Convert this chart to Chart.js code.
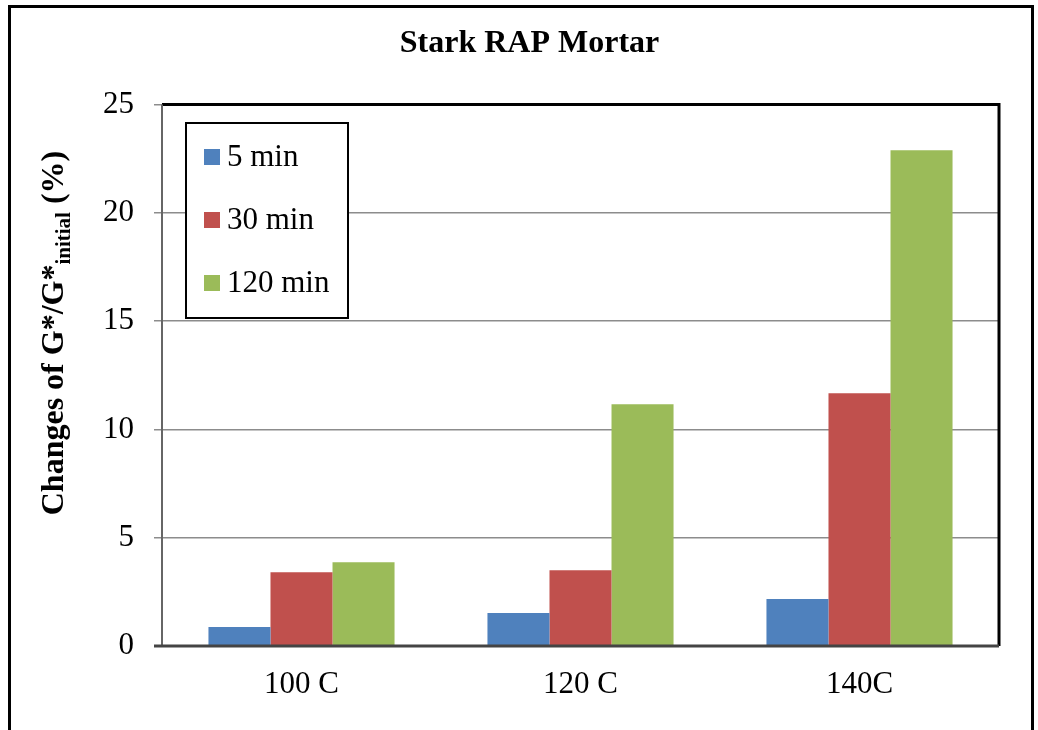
<!DOCTYPE html>
<html>
<head>
<meta charset="utf-8">
<script src="https://cdn.jsdelivr.net/npm/chart.js@4.4.1/dist/chart.umd.min.js"></script>
<style>
  html, body { margin: 0; padding: 0; background: #fff; }
  #wrap { position: relative; width: 1038px; height: 730px; overflow: hidden; }
  #frame { position: absolute; left: 8px; top: 5px; width: 1020px; height: 800px; border: 3px solid #000; }
  #chart { position: absolute; left: 0; top: 0; }
</style>
</head>
<body>
<div id="wrap">
  <div id="frame"></div>
  <canvas id="chart" width="1038" height="730"></canvas>
</div>
<script>
const categories = ['100 C', '120 C', '140C'];
const seriesNames = ['5 min', '30 min', '120 min'];
const min5 = [0.88, 1.52, 2.17];
const min30 = [3.41, 3.50, 11.67];
const min120 = [3.87, 11.16, 22.88];
const colors = ['#4F81BD', '#C0504D', '#9BBB59'];
const yTicks = [0, 5, 10, 15, 20, 25];

const serif = '"Liberation Serif", "Times New Roman", serif';

// plot frame drawn over gridlines
const framePlugin = {
    id: 'frame',
    beforeDatasetsDraw(chart) {
        const {ctx, chartArea: a} = chart;
        ctx.save();
        ctx.strokeStyle = '#000';
        ctx.lineWidth = 3;
        ctx.beginPath();
        ctx.moveTo(a.left, a.top);
        ctx.lineTo(a.right, a.top);
        ctx.lineTo(a.right, a.bottom);
        ctx.stroke();
        ctx.strokeStyle = '#666';
        ctx.lineWidth = 2;
        ctx.beginPath();
        ctx.moveTo(a.left, a.top);
        ctx.lineTo(a.left, a.bottom);
        ctx.stroke();
        ctx.restore();
    },
    afterDatasetsDraw(chart) {
        const {ctx, chartArea: a} = chart;
        ctx.save();
        ctx.strokeStyle = '#444';
        ctx.lineWidth = 3;
        ctx.beginPath();
        ctx.moveTo(a.left - 8, a.bottom);
        ctx.lineTo(a.right, a.bottom);
        ctx.stroke();
        ctx.restore();
    }
};

// y axis title with subscript
const yTitlePlugin = {
    id: 'yTitle',
    afterDraw(chart) {
        const ctx = chart.ctx;
        const main = 'Changes of G*/G*';
        const sub = 'initial';
        const tail = ' (%)';
        ctx.save();
        ctx.fillStyle = '#000';
        ctx.textBaseline = 'alphabetic';
        ctx.font = 'bold 32px ' + serif;
        const w1 = ctx.measureText(main).width;
        const w3 = ctx.measureText(tail).width;
        ctx.font = 'bold 21px ' + serif;
        const w2 = ctx.measureText(sub).width;
        const total = w1 + w2 + w3;
        ctx.translate(63, 333);
        ctx.rotate(-Math.PI / 2);
        let x = -total / 2;
        ctx.font = 'bold 32px ' + serif;
        ctx.fillText(main, x, 0);
        x += w1;
        ctx.font = 'bold 21px ' + serif;
        ctx.fillText(sub, x, 7);
        x += w2;
        ctx.font = 'bold 32px ' + serif;
        ctx.fillText(tail, x, 0);
        ctx.restore();
    }
};

// boxed legend inside the plot
const legendPlugin = {
    id: 'boxLegend',
    afterDraw(chart) {
        const ctx = chart.ctx;
        const bx = 186, by = 123, bw = 162, bh = 195;
        ctx.save();
        ctx.fillStyle = '#fff';
        ctx.fillRect(bx, by, bw, bh);
        ctx.strokeStyle = '#000';
        ctx.lineWidth = 2;
        ctx.strokeRect(bx, by, bw, bh);
        ctx.font = '31px ' + serif;
        ctx.textBaseline = 'middle';
        chart.data.datasets.forEach((ds, i) => {
            const cy = 157 + i * 63;
            ctx.fillStyle = ds.backgroundColor;
            ctx.fillRect(204, cy - 8, 16, 16);
            ctx.fillStyle = '#000';
            ctx.fillText(ds.label, 227, cy + 1);
        });
        ctx.restore();
    }
};

new Chart(document.getElementById('chart'), {
    type: 'bar',
    data: {
        labels: categories,
        datasets: [
            {label: seriesNames[0], data: min5, backgroundColor: colors[0]},
            {label: seriesNames[1], data: min30, backgroundColor: colors[1]},
            {label: seriesNames[2], data: min120, backgroundColor: colors[2]}
        ]
    },
    options: {
        responsive: false,
        animation: false,
        layout: {padding: {left: 60, right: 39, top: 0, bottom: 0}},
        datasets: {bar: {categoryPercentage: 0.667, barPercentage: 1.0}},
        plugins: {
            legend: {display: false},
            tooltip: {enabled: false},
            title: {
                display: true,
                text: 'Stark RAP Mortar',
                color: '#000',
                font: {family: serif, size: 32, weight: 'bold'},
                padding: {top: 25, bottom: 41}
            }
        },
        scales: {
            x: {
                grid: {display: false, drawTicks: false},
                border: {display: false},
                ticks: {color: '#000', font: {family: serif, size: 31}, padding: 20},
                afterFit(scale) { scale.height = 84; }
            },
            y: {
                min: 0,
                max: 25,
                afterBuildTicks(scale) { scale.ticks = yTicks.map(v => ({value: v})); },
                grid: {color: '#8c8c8c', lineWidth: 1.5, tickLength: 8, drawTicks: true},
                border: {display: false},
                ticks: {color: '#000', font: {family: serif, size: 31}, padding: 20},
                afterFit(scale) { scale.width = 102; }
            }
        }
    },
    plugins: [framePlugin, yTitlePlugin, legendPlugin]
});
</script>
</body>
</html>
